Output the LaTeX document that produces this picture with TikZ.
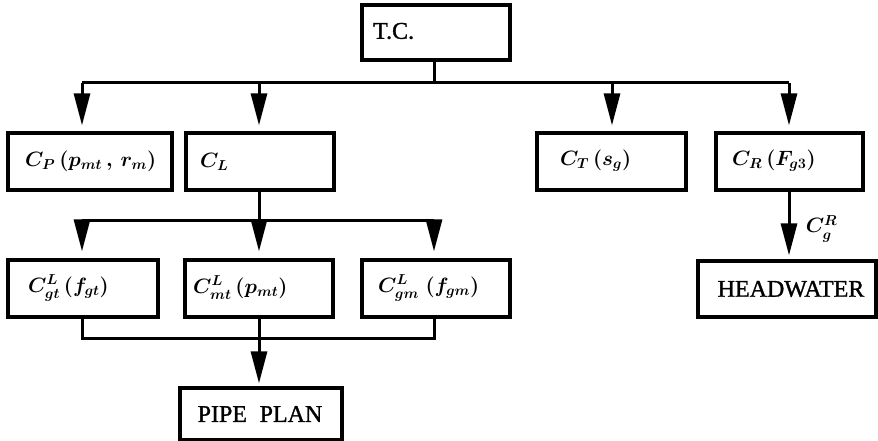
\documentclass[tikz,border=0pt]{standalone}
\usepackage{fontspec}
\setmainfont{Liberation Serif}
\newfontfamily\heavyserif{Liberation Serif}[FakeBold=1.2]
\usetikzlibrary{arrows.meta}
\begin{document}
\begin{tikzpicture}[x=1pt,y=-1pt,
  box/.style={draw,line width=3.2pt,inner sep=0pt,minimum height=57pt},
  txt/.style={anchor=west,inner sep=0pt,font=\heavyserif\fontsize{24}{28}\selectfont},
  lbl/.style={anchor=west,inner sep=0pt,font=\fontsize{21}{25}\selectfont\boldmath},
  wire/.style={line width=3pt},
  arr/.style={wire,-{Triangle[length=32pt,width=16pt]}}]
\useasboundingbox (0,0) rectangle (878,441);
% boxes
\node[box,minimum width=148pt,minimum height=55pt] (tc) at (436,32.5) {};
\node[box,minimum width=164pt] (cp) at (90,161.5) {};
\node[box,minimum width=148pt] (cl) at (260,161.5) {};
\node[box,minimum width=149pt] (ct) at (611.5,161.5) {};
\node[box,minimum width=147pt] (cr) at (789.5,161.5) {};
\node[box,minimum width=150pt] (cgt) at (83,288.5) {};
\node[box,minimum width=148pt] (cmt) at (259,288.5) {};
\node[box,minimum width=148pt] (cgm) at (436,288.5) {};
\node[box,minimum width=162pt,minimum height=52pt] (pp) at (261,414) {};
\node[box,minimum width=178pt,minimum height=56pt] (hw) at (787,289) {};
% texts
\node[txt] (tct) at (373,31) {T.C.};
\node[lbl] (cpt) at (25,161) {$C_P\,(p_{mt}\,,\,r_m)$};
\node[lbl] (clt) at (200,162) {$C_L$};
\node[lbl] (ctt) at (560,161) {$C_T\,(s_g)$};
\node[lbl] (crt) at (732,161) {$C_R\,(F_{g3})$};
\node[lbl] (cgtt) at (28,288) {$C^L_{gt}\,(f_{gt})$};
\node[lbl] (cmtt) at (193,288) {$C^L_{mt}\,(p_{mt})$};
\node[lbl] (cgmt) at (378,288) {$C^L_{gm}\;(f_{gm})$};
\node[txt,anchor=center] (ppt) at (260,414) {PIPE\; PLAN};
\node[txt,anchor=center] (hwt) at (791,289) {HEADWATER};
% junction points
\coordinate (b0) at (434,83);
\coordinate (b1) at (82,83);
\coordinate (b2) at (259,83);
\coordinate (b3) at (612,83);
\coordinate (b4) at (789,83);
\coordinate (l0) at (259,220);
\coordinate (l1) at (82,220);
\coordinate (l3) at (434,220);
\coordinate (m1) at (82,338);
\coordinate (m2) at (259,338);
\coordinate (m3) at (434,338);
% top level distribution
\draw[wire] (tc.south -| b0) -- (b0);
\draw[wire] (b1) -- (b4);
\draw[arr,shorten >=6pt] (b1) -- (b1 |- cp.north);
\draw[arr,shorten >=6pt] (b2) -- (b2 |- cl.north);
\draw[arr,shorten >=6pt] (b3) -- (b3 |- ct.north);
\draw[arr,shorten >=6pt] (b4) -- (b4 |- cr.north);
% C_L branches
\draw[wire] (cl.south -| l0) -- (l0);
\draw[wire] (l1) -- (l3);
\draw[arr,shorten >=7pt] (l1) -- (l1 |- cgt.north);
\draw[arr,shorten >=7pt] (l0) -- (l0 |- cmt.north);
\draw[arr,shorten >=7pt] (l3) -- (l3 |- cgm.north);
% merge into pipe plan
\draw[wire] (cgt.south -| m1) -- (m1) -- (m3) -- (cgm.south -| m3);
\draw[wire] (cmt.south -| m2) -- (m2);
\draw[arr,shorten >=3pt] (m2) -- (m2 |- pp.north);
% headwater
\draw[arr,shorten >=4pt] (cr.south -| b4) -- (b4 |- hw.north)
  node[pos=0.55,right=12pt,font=\fontsize{21}{25}\selectfont\boldmath] (cgr) {$C^R_g$};
\end{tikzpicture}
\end{document}
